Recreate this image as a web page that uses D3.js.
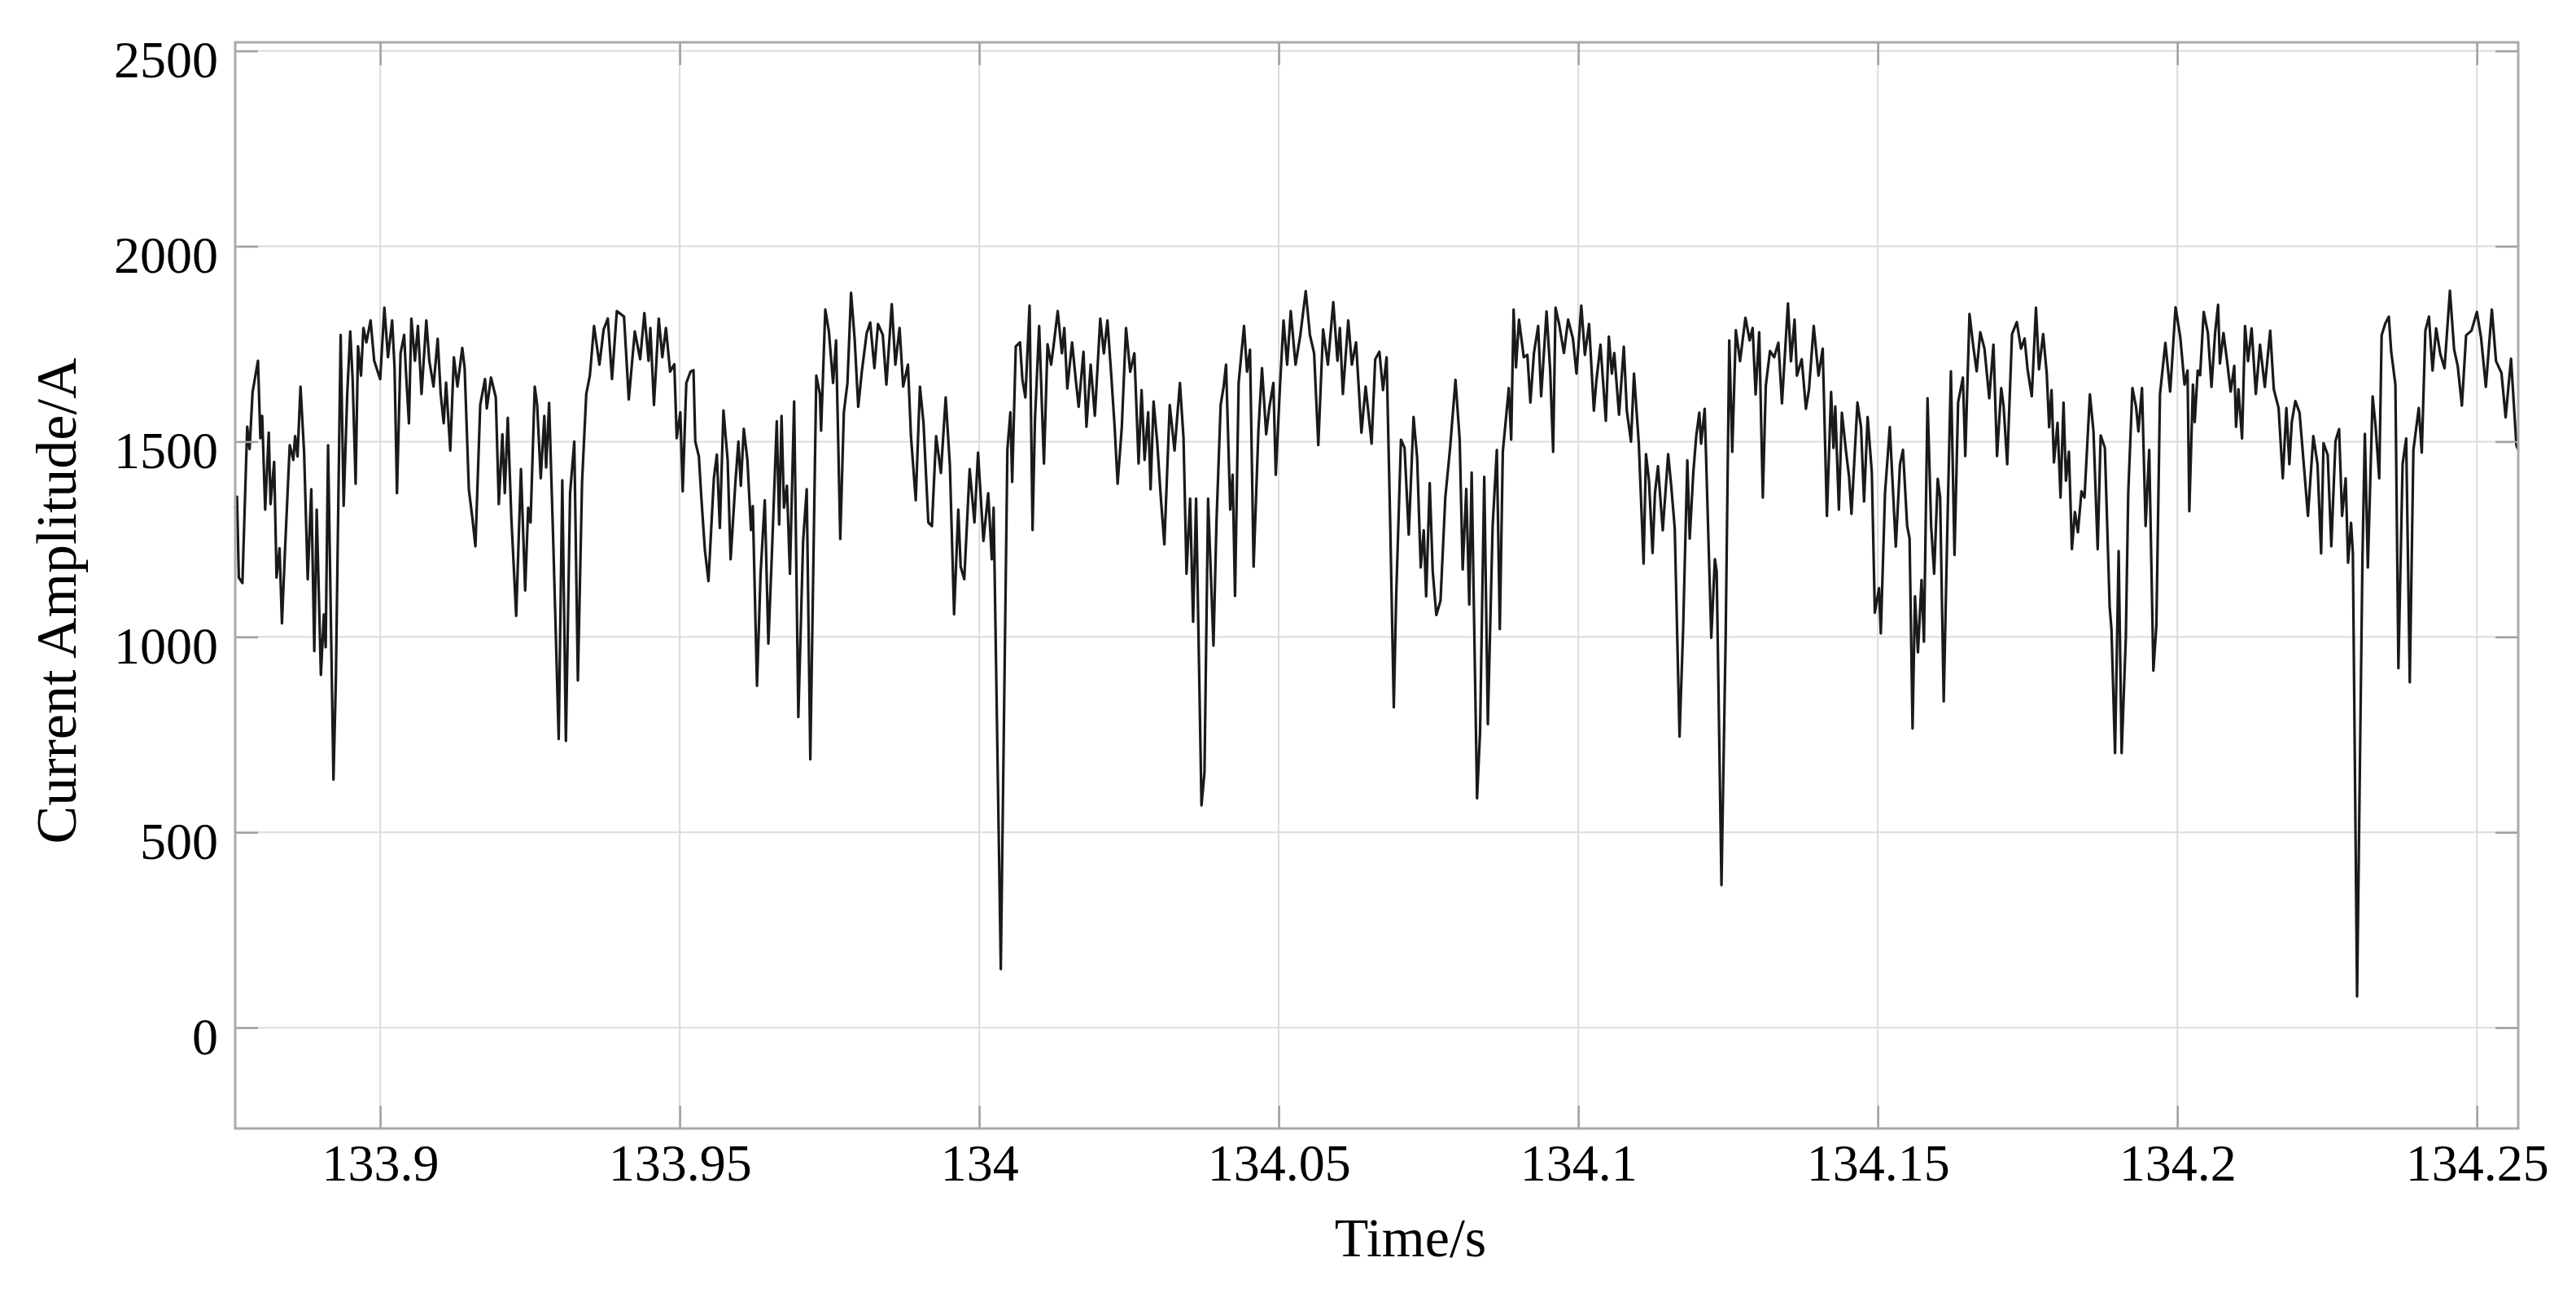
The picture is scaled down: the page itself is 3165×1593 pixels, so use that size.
<!DOCTYPE html>
<html>
<head>
<meta charset="utf-8">
<script src="https://cdn.jsdelivr.net/npm/d3@7/dist/d3.min.js"></script>
<style>
  body { margin: 0; background: #fff; }
  text { font-family: "Palatino Linotype", "Book Antiqua", Palatino, "Liberation Serif", serif; fill: #000; }
</style>
</head>
<body>
<div class="CHART"></div>
<script>
// time in ms after 133.9 s
var timeMs = [
  -24.2,-23.9,-23.6,-23.0,-22.2,-21.8,-21.3,-20.4,-20.0,-19.7,-19.2,-18.6,-18.3,-17.7,-17.3,-16.8,-16.4,-15.9,-15.1,-14.5,
  -14.2,-13.8,-13.3,-12.7,-12.1,-11.5,-11.0,-10.6,-9.9,-9.4,-9.1,-8.7,-7.8,-7.4,-6.6,-6.1,-5.5,-5.0,-4.6,-4.1,
  -3.7,-3.2,-2.8,-2.3,-1.6,-1.0,0,0.7,1.3,2.0,2.4,2.8,3.4,4.0,4.3,4.8,5.2,5.8,6.3,6.9,
  7.7,8.2,8.9,9.6,10.1,10.6,11.0,11.7,12.3,12.9,13.7,14.1,14.8,15.4,15.9,16.7,17.5,17.8,18.5,19.3,
  19.8,20.4,20.8,21.3,21.9,22.7,23.5,24.2,24.7,25.1,25.8,26.2,26.8,27.4,27.7,28.2,28.9,29.8,30.4,31.0,
  31.7,32.4,33.0,33.7,34.4,35.0,35.7,36.6,37.3,38.0,38.7,39.5,40.7,41.5,42.5,43.4,44.1,44.8,45.1,45.7,
  46.5,47.1,47.7,48.4,49.1,49.5,50.1,50.5,51.1,51.8,52.3,52.6,53.2,53.6,54.2,54.8,55.7,56.2,56.7,57.3,
  58.0,58.5,59.3,59.8,60.2,60.7,61.3,61.9,62.2,62.9,63.5,64.2,64.8,65.4,66.2,66.6,67.0,67.4,67.9,68.4,
  69.1,69.8,70.6,71.2,71.8,72.8,73.4,73.6,74.3,74.9,75.6,76.1,76.8,77.4,78.0,78.6,79.2,79.8,80.4,81.2,
  81.8,82.5,83.1,83.9,84.5,85.4,86.0,86.7,87.3,88.1,88.6,89.4,90.1,90.7,91.5,92.1,92.8,93.6,94.4,95.1,
  95.8,96.5,96.9,97.5,98.4,99.2,99.8,100.7,101.5,102.1,102.4,103.6,104.7,105.2,105.5,106.1,106.8,107.2,107.7,108.4,
  108.9,109.3,110.0,110.8,111.4,112.0,112.4,113.1,113.8,114.2,114.7,115.5,116.1,116.6,117.4,117.9,118.6,119.3,120.2,120.8,
  121.4,122.0,122.6,123.1,123.8,124.5,125.2,125.9,126.6,127.1,127.6,128.2,128.6,129.1,129.7,130.3,130.9,131.8,132.6,133.5,
  134.1,134.6,135.2,135.7,136.2,137.1,137.6,138.2,139.1,139.6,140.3,140.8,141.2,141.9,142.3,142.7,143.3,144.2,144.7,145.2,
  145.8,146.6,147.2,147.9,148.4,149.1,149.5,150.2,150.8,151.4,152.0,152.8,153.6,154.5,155.2,155.9,156.6,157.4,158.2,159.1,
  159.8,160.2,160.7,161.6,162.2,162.9,163.8,164.5,165.5,166.1,166.8,167.4,168.0,168.6,169.2,169.6,170.4,171.0,171.7,172.5,
  173.1,173.7,174.2,174.6,175.2,175.7,176.3,177.0,177.8,178.6,179.5,180.2,180.7,181.3,181.8,182.2,183.1,183.6,184.3,184.9,
  185.7,186.4,186.9,187.4,188.4,188.8,189.2,189.6,190.1,190.9,191.5,192.0,192.6,193.3,193.8,194.7,195.3,195.8,196.2,196.8,
  197.6,198.3,199.1,199.7,200.5,201.1,201.8,202.6,203.0,203.7,204.6,205.1,205.6,206.0,206.8,207.6,208.1,208.8,209.3,210.1,
  210.9,211.3,211.8,212.4,212.8,213.3,214.1,215.0,215.5,216.1,216.9,217.5,218.2,218.6,219.2,219.7,220.2,220.5,221.1,221.8,
  222.2,222.8,223.1,223.9,224.6,225.2,225.7,226.3,227.0,227.9,228.6,229.1,229.6,230.2,230.8,231.3,232.0,232.7,233.4,234.0,
  235.0,235.5,236.1,236.5,237.3,238.0,238.5,239.3,240.1,240.8,241.5,242.2,242.6,242.9,243.5,244.0,244.7,245.2,245.6,246.6,
  247.2,247.7,248.3,249.0,249.5,250.2,250.5,251.2,252.0,253.0,253.7,254.2,254.9,255.3,255.8,256.2,256.7,257.3,257.7,258.3,
  258.9,259.4,260.0,260.4,261.0,261.6,262.2,262.8,263.4,264.2,264.6,265.3,265.9,266.5,267.1,267.8,268.6,269.3,269.9,270.6,
  271.0,271.6,272.4,273.2,273.9,274.5,275.0,275.7,276.4,276.9,277.6,278.2,278.6,279.0,279.4,280.0,280.5,281.0,281.4,281.9,
  282.4,282.9,283.4,284.0,284.5,285.4,286.0,286.7,287.2,287.9,288.7,289.0,289.6,290.2,290.7,291.4,291.8,292.5,293.1,293.5,
  294.1,294.7,295.3,296.0,296.5,297.1,298.0,298.8,299.7,300.5,301.2,301.7,302.0,302.6,302.9,303.4,303.8,304.4,305.1,305.7,
  306.3,306.8,307.1,307.7,308.3,308.9,309.5,309.8,310.2,310.8,311.3,311.8,312.4,313.1,313.8,314.6,315.5,316.1,316.9,317.6,
  318.2,318.7,319.1,319.7,320.4,321.2,321.8,322.7,323.4,324.0,324.4,325.1,325.7,326.4,327.0,327.5,328.1,328.5,329.0,329.3,
  330.0,330.9,331.3,331.8,332.6,333.1,333.7,334.1,334.7,335.3,335.7,336.4,336.9,337.6,338.2,338.8,339.4,340.3,340.8,341.4,
  342.0,342.6,343.2,343.9,344.6,345.5,346.2,346.8,347.5,348.2,349.1,350.0,350.7,351.5,352.5,353.2,354.1,354.8,355.7,356.6,
  356.9
];

// current amplitude in A
var currentA = [
  1330,1359,1152,1138,1538,1481,1627,1707,1509,1566,1326,1523,1340,1448,1152,1227,1035,1218,1491,1453,
  1514,1462,1641,1472,1148,1378,964,1326,903,1058,974,1491,635,889,1773,1336,1622,1782,1660,1392,
  1744,1669,1791,1754,1810,1707,1660,1843,1716,1810,1688,1368,1726,1773,1679,1547,1815,1707,1796,1622,
  1810,1707,1641,1763,1622,1547,1651,1477,1716,1641,1740,1688,1378,1303,1232,1594,1660,1585,1664,1613,
  1340,1519,1368,1561,1303,1054,1430,1119,1331,1293,1641,1594,1406,1566,1434,1599,1237,739,1401,734,
  1368,1500,889,1397,1622,1669,1796,1697,1787,1815,1660,1834,1820,1608,1782,1711,1829,1707,1791,1594,
  1815,1716,1791,1679,1698,1509,1575,1373,1650,1679,1683,1500,1462,1359,1223,1143,1406,1467,1279,1580,
  1453,1199,1397,1500,1387,1533,1453,1274,1335,875,1162,1350,983,1218,1552,1288,1566,1331,1387,1162,
  1603,795,1246,1378,687,1669,1622,1528,1838,1782,1650,1759,1251,1575,1650,1881,1763,1589,1679,1777,
  1805,1688,1801,1773,1646,1852,1697,1791,1641,1697,1514,1350,1641,1547,1293,1284,1514,1420,1613,1439,
  1058,1326,1180,1148,1430,1293,1472,1246,1368,1199,1331,150,1481,1575,1397,1744,1754,1660,1613,1848,
  1274,1556,1796,1444,1749,1697,1744,1834,1726,1791,1636,1754,1660,1589,1730,1538,1697,1566,1815,1726,
  1810,1679,1538,1392,1538,1791,1679,1726,1444,1632,1453,1575,1378,1603,1500,1359,1237,1594,1477,1650,
  1509,1162,1354,1039,1354,569,654,1354,978,1293,1594,1641,1697,1326,1415,1105,1650,1796,1679,1735,
  1180,1528,1688,1519,1585,1650,1415,1641,1810,1697,1834,1697,1773,1885,1773,1726,1491,1787,1697,1857,
  1707,1791,1622,1810,1697,1754,1523,1641,1495,1711,1730,1632,1716,1293,820,1104,1505,1484,1262,1563,
  1458,1178,1273,1104,1394,1167,1056,1093,1357,1484,1658,1505,1173,1379,1083,1421,587,756,1410,777,
  1284,1479,1020,1474,1637,1505,1838,1690,1812,1716,1722,1600,1727,1796,1616,1833,1685,1474,1843,1801,
  1727,1812,1764,1674,1848,1722,1801,1579,1653,1748,1553,1769,1674,1727,1569,1743,1579,1500,1674,1495,
  1188,1468,1400,1215,1368,1437,1273,1468,1389,1278,745,1020,1452,1252,1421,1516,1574,1495,1584,1210,
  998,1199,1167,365,998,1759,1474,1785,1706,1817,1759,1791,1621,1780,1357,1643,1732,1716,1753,1598,
  1854,1706,1812,1669,1711,1584,1632,1796,1669,1738,1310,1627,1484,1590,1326,1574,1474,1410,1315,1600,
  1537,1347,1563,1421,1062,1125,1009,1368,1537,1231,1442,1479,1284,1252,766,1104,961,1146,988,1611,
  1284,1162,1405,1357,835,1273,1680,1210,1600,1664,1463,1827,1748,1680,1780,1738,1611,1748,1463,1637,
  1590,1442,1775,1806,1738,1764,1685,1616,1843,1685,1775,1674,1537,1632,1447,1548,1357,1600,1400,1474,
  1225,1320,1268,1373,1357,1621,1526,1225,1516,1484,1078,1020,703,1220,703,998,1368,1637,1590,1526,
  1637,1284,1479,914,1030,1621,1753,1628,1844,1766,1646,1682,1322,1646,1550,1682,1670,1832,1778,1640,
  1778,1850,1700,1778,1706,1628,1694,1538,1634,1508,1796,1706,1790,1622,1748,1640,1784,1634,1586,1406,
  1586,1442,1550,1604,1574,1424,1310,1514,1442,1214,1496,1466,1232,1502,1532,1310,1406,1190,1292,1214,
  80,1202,1520,1178,1616,1538,1406,1772,1802,1820,1730,1646,920,1442,1508,884,1478,1586,1472,1784,
  1820,1682,1790,1724,1688,1886,1736,1694,1592,1772,1784,1832,1766,1640,1838,1706,1676,1562,1712,1490,
  1480
];

var xTicks = [133.9, 133.95, 134, 134.05, 134.1, 134.15, 134.2, 134.25];
var yTicks = [0, 500, 1000, 1500, 2000, 2500];
var xDomain = [133.8758, 134.2569];
var yDomain = [-258, 2522];

var W = 3165, H = 1593;
var margin = {top: 52, right: 71, bottom: 207, left: 289},
    width = W - margin.left - margin.right,
    height = H - margin.top - margin.bottom;

var canvas = d3.select(".CHART").append("svg")
    .attr("width", W)
    .attr("height", H);

var g = canvas.append("g")
    .attr("transform", "translate(" + margin.left + "," + margin.top + ")");

var scaleX = d3.scaleLinear().domain(xDomain).range([0, width]);
var scaleY = d3.scaleLinear().domain(yDomain).range([height, 0]);

var data = timeMs.map(function(t, i) { return {t: 133.9 + t / 1000, v: currentA[i]}; });

// grid
g.append("g").selectAll("line").data(xTicks).enter().append("line")
    .attr("x1", function(d) { return scaleX(d); })
    .attr("x2", function(d) { return scaleX(d); })
    .attr("y1", 0).attr("y2", height)
    .attr("stroke", "#dcdcdc").attr("stroke-width", 2);
g.append("g").selectAll("line").data(yTicks).enter().append("line")
    .attr("y1", function(d) { return scaleY(d); })
    .attr("y2", function(d) { return scaleY(d); })
    .attr("x1", 0).attr("x2", width)
    .attr("stroke", "#dcdcdc").attr("stroke-width", 2);

// signal
var line = d3.line()
    .x(function(d) { return scaleX(d.t); })
    .y(function(d) { return scaleY(d.v); });

g.append("path")
    .datum(data)
    .attr("d", line)
    .attr("fill", "none")
    .attr("stroke", "#1a1a1a")
    .attr("stroke-width", 3.2)
    .attr("stroke-linejoin", "round");

// axes, ticks pointing inward on all four sides
var tickLen = 28;
var fmtX = function(d) { return d3.format("")(+d.toFixed(2)); };

var xAxis = g.append("g")
    .attr("transform", "translate(0," + height + ")")
    .call(d3.axisBottom(scaleX).tickValues(xTicks).tickSize(-tickLen).tickPadding(19).tickFormat(fmtX));
var xTop = g.append("g")
    .call(d3.axisTop(scaleX).tickValues(xTicks).tickSize(-tickLen).tickFormat(""));
var yAxis = g.append("g")
    .call(d3.axisLeft(scaleY).tickValues(yTicks).tickSize(-tickLen).tickPadding(21).tickFormat(d3.format("")));
var yRight = g.append("g")
    .attr("transform", "translate(" + width + ",0)")
    .call(d3.axisRight(scaleY).tickValues(yTicks).tickSize(-tickLen).tickFormat(""));

[xAxis, xTop, yAxis, yRight].forEach(function(a) {
    a.select(".domain").remove();
    a.selectAll(".tick line").attr("stroke", "#a0a0a0").attr("stroke-width", 2.5);
    a.selectAll("text").attr("font-size", 64).attr("font-family", null).attr("fill", "#000");
});
yAxis.selectAll("text").attr("dy", "0.5em");

// box
g.append("rect")
    .attr("x", 0).attr("y", 0)
    .attr("width", width).attr("height", height)
    .attr("fill", "none")
    .attr("stroke", "#aaaaaa")
    .attr("stroke-width", 3);

// axis titles
canvas.append("text")
    .attr("x", 1733)
    .attr("y", 1543)
    .attr("text-anchor", "middle")
    .attr("font-size", 68)
    .text("Time/s");

canvas.append("text")
    .attr("transform", "translate(93,738) rotate(-90)")
    .attr("text-anchor", "middle")
    .attr("font-size", 70)
    .text("Current Amplitude/A");
</script>
</body>
</html>
